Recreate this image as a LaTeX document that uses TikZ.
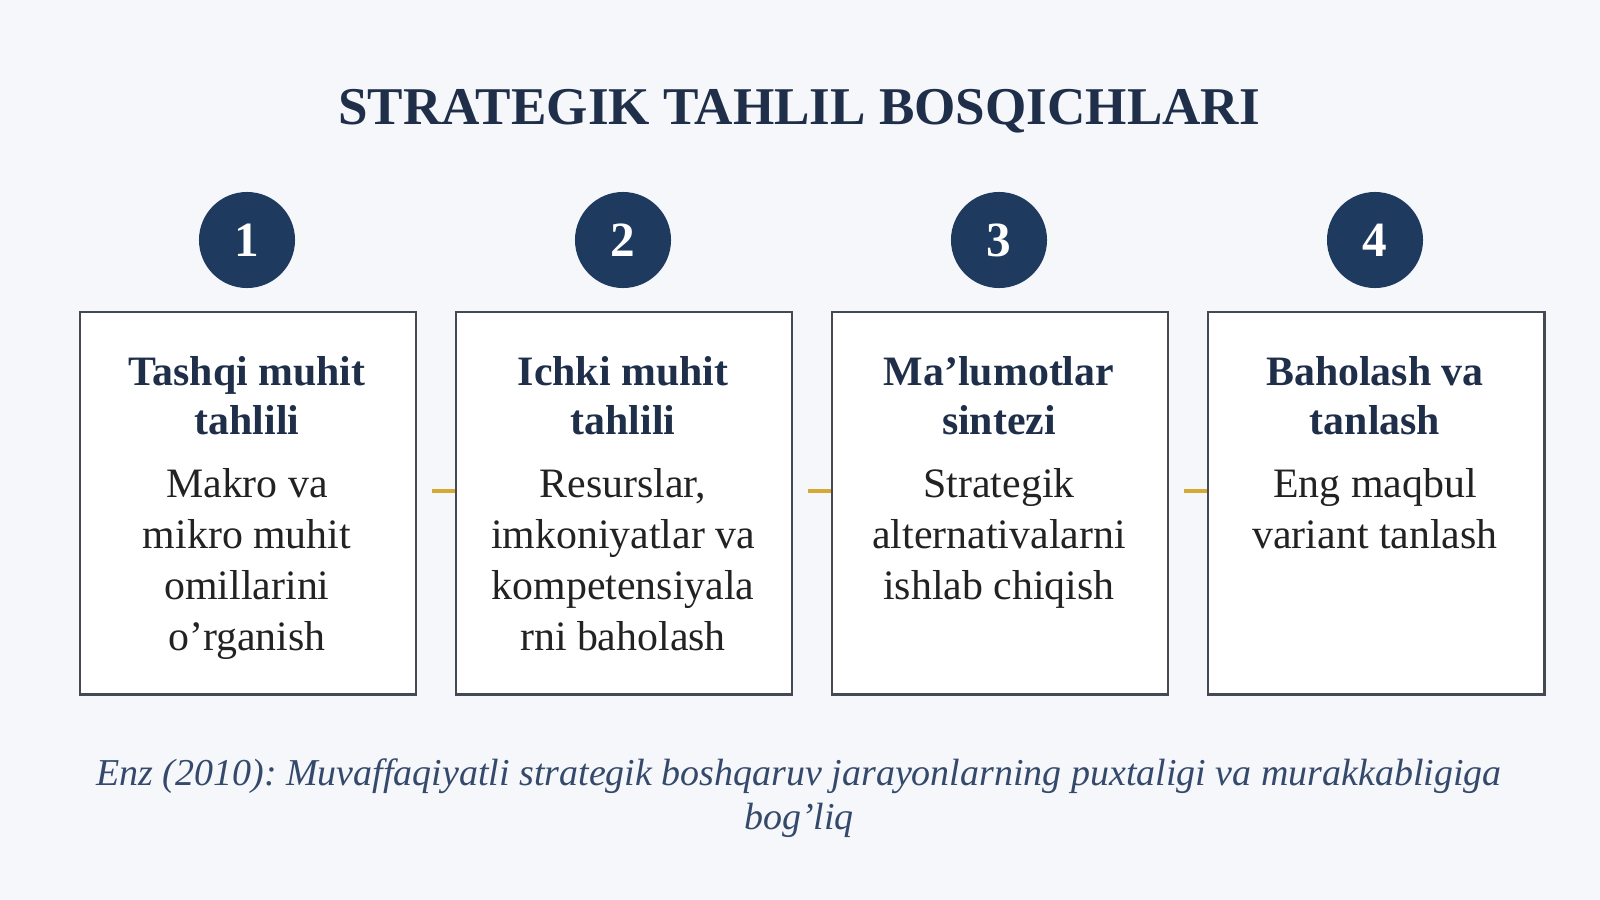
\documentclass[tikz,border=0pt]{standalone}
\usepackage{fontspec}
\setmainfont{Liberation Serif}
\frenchspacing
\definecolor{bgcol}{HTML}{F5F7FA}
\definecolor{navy}{HTML}{1E3A5F}
\definecolor{headcol}{HTML}{1F2F4A}
\definecolor{bodycol}{HTML}{222222}
\definecolor{boxline}{HTML}{434A54}
\definecolor{gold}{HTML}{D4A935}
\definecolor{footcol}{HTML}{34496B}
\tikzset{
  stepbox/.style={draw=boxline, line width=0.65pt, fill=white, minimum width=3.36cm, minimum height=3.82cm, inner sep=0, anchor=north west},
  numcirc/.style={circle, fill=navy, minimum size=0.96cm, inner sep=0, text=white, font=\bfseries\fontsize{14}{16}\selectfont},
  headtxt/.style={anchor=north, inner sep=0, align=center, text=headcol, font=\bfseries\fontsize{11.9}{14}\selectfont},
  bodytxt/.style={anchor=north, inner sep=0, align=center, text=bodycol, font=\fontsize{11.9}{14.5}\selectfont},
  conn/.style={draw=gold, line width=1.1pt},
}
\begin{document}
\begin{tikzpicture}[x=0.01cm, y=-0.01cm]
\fill[bgcol] (0,0) rectangle (1600,900);
\useasboundingbox (0,0) rectangle (1600,900);
\node[text=headcol, font=\bfseries\fontsize{15.1}{18}\selectfont, inner sep=0] (title) at (799,111) {STRATEGIK TAHLIL BOSQICHLARI};
% boxes
\node[stepbox] (b1) at (79,311) {};
\node[stepbox] (b2) at (455,311) {};
\node[stepbox] (b3) at (831,311) {};
\node[stepbox] (b4) at (1207,311) {};
% circles
\node[numcirc] (n1) at (247,240) {1};
\node[numcirc] (n2) at (623,240) {2};
\node[numcirc] (n3) at (999,240) {3};
\node[numcirc] (n4) at (1375,240) {4};
% headings
\node[headtxt] (h1) at (247,356) {Tashqi muhit\\tahlili};
\node[headtxt] (h2) at (623,356) {Ichki muhit\\tahlili};
\node[headtxt] (h3) at (999,356) {Ma’lumotlar\\sintezi};
\node[headtxt] (h4) at (1375,356) {Baholash va\\tanlash};
% bodies
\node[bodytxt] (t1) at (247,468) {Makro va\\mikro muhit\\omillarini\\o’rganish};
\node[bodytxt] (t2) at (623,468) {Resurslar,\\imkoniyatlar va\\kompetensiyala\\rni baholash};
\node[bodytxt] (t3) at (999,468) {Strategik\\alternativalarni\\ishlab chiqish};
\node[bodytxt] (t4) at (1375,468) {Eng maqbul\\variant tanlash};
% connectors
\coordinate (c12) at (432,491);
\coordinate (c23) at (808,491);
\coordinate (c34) at (1184,491);
\draw[conn] (c12) -- (c12 -| b2.west);
\draw[conn] (c23) -- (c23 -| b3.west);
\draw[conn] (c34) -- (c34 -| b4.west);
% footer
\node[align=center, inner sep=0, text=footcol, font=\itshape\fontsize{10.8}{12.6}\selectfont] (foot) at (799,798) {Enz (2010): Muvaffaqiyatli strategik boshqaruv jarayonlarning puxtaligi va murakkabligiga\\bog’liq};
\end{tikzpicture}
\end{document}
